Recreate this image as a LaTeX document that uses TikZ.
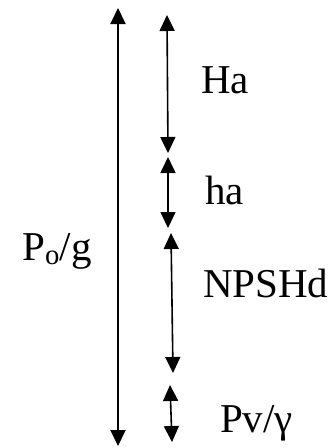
\documentclass[tikz,border=0pt]{standalone}
\usepackage{fontspec}
\setmainfont{Liberation Serif}
\usetikzlibrary{arrows.meta}
\tikzset{
  dim/.style={line width=1.6pt, {Triangle[width=15pt,length=16pt]}-{Triangle[width=15pt,length=16pt]}},
  dimbig/.style={dim, line width=2pt},
  lbl/.style={anchor=base west, inner sep=0pt, font=\fontsize{41}{47}\selectfont}
}
\begin{document}
\begin{tikzpicture}[x=1pt,y=-1pt]
  \useasboundingbox (0,0) rectangle (333,448);
  % total height
  \coordinate (T1) at (118,8);
  \coordinate (T2) at (118,446);
  % stacked heads
  \coordinate (A1) at (167,15);
  \coordinate (A2) at (168,153);
  \coordinate (B1) at (168,157);
  \coordinate (B2) at (168,228);
  \coordinate (C1) at (171,233);
  \coordinate (C2) at (173,373);
  \coordinate (D1) at (170,385);
  \coordinate (D2) at (172,442);
  \draw[dimbig] (T1) -- (T2);
  \draw[dim] (A1) -- (A2);
  \draw[dim] (B1) -- (B2);
  \draw[dim] (C1) -- (C2);
  \draw[dim] (D1) -- (D2);
  % labels
  \node[lbl] (po) at (22,260) {P\textsubscript{o}/g};
  \node[lbl] (Ha) at (201,93) {Ha};
  \node[lbl] (ha) at (205,204) {ha};
  \node[lbl] (np) at (203,297) {NPSHd};
  \node[lbl] (pv) at (220,432) {Pv/γ};
\end{tikzpicture}
\end{document}
